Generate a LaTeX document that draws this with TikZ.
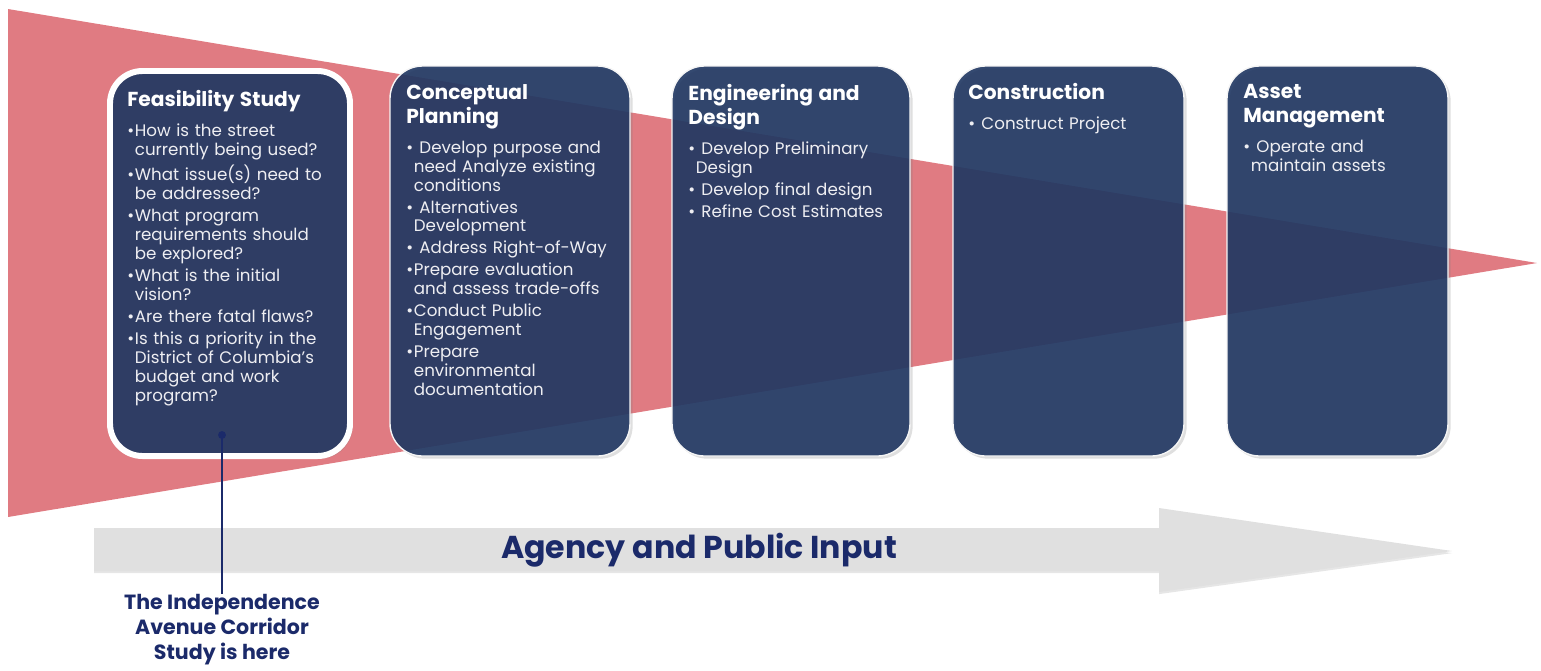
\documentclass[tikz,border=0pt]{standalone}
\usepackage{fontspec}
\setmainfont{Poppins}
\usetikzlibrary{positioning,shadows}

\definecolor{funnelred}{RGB}{224,123,130}
\definecolor{phaseblue}{RGB}{32,55,98}
\definecolor{inputgray}{RGB}{224,224,224}
\definecolor{navy}{RGB}{27,42,106}
\definecolor{bodytext}{RGB}{238,238,242}

% one bullet point, continuation lines hang under the text
\newcommand\itm{\par\vspace{1.7pt}\hangindent=4.3pt\hangafter=1\noindent\makebox[4.3pt][l]{\textbullet}}
\newcommand\phasehead[1]{{\fontsize{11.5}{13.5}\selectfont\bfseries\color{white}#1\par}\vspace{4.6pt}}

\begin{document}
\begin{tikzpicture}[x=0.2mm, y=-0.2mm,
    phase/.style={rectangle, rounded corners=6.5mm, fill=phaseblue, fill opacity=0.91,
      draw=white!92!gray, line width=0.8pt, outer sep=0pt, minimum height=78mm,
      drop shadow={opacity=0.25, shadow xshift=1.5pt, shadow yshift=-1.5pt}},
    phasetext/.style={anchor=north west, inner sep=0pt, text width=46mm, align=left,
      text=bodytext, font=\fontsize{9.5}{10.8}\selectfont},
    funnel/.style={fill=funnelred},
    inputarrow/.style={fill=inputgray,
      drop shadow={opacity=0.2, shadow xshift=0pt, shadow yshift=-1.2pt}},
    callout/.style={draw=navy, line width=1.7pt}]
  \useasboundingbox (0,0) rectangle (1541,670);

  % funnel behind the phases
  \fill[funnel] (8,9) -- (1537,263) -- (8,517) -- cycle;

  % Agency and public input arrow
  \fill[inputarrow] (94,528) -- (1159,528) -- (1159,508) -- (1452,551)
    -- (1159,592) -- (1159,571) -- (94,571) -- cycle;
  \node[font=\fontsize{18}{20}\selectfont\bfseries, text=navy] (input) at (699,550)
    {Agency and Public Input};

  % phases
  \node[phase, minimum width=48mm, minimum height=77mm, line width=3.4pt, draw=white]
    (feas) at (230,263.5) {};
  \node[phase, minimum width=48mm] (concept) at (510,261) {};
  \node[phase, minimum width=47.6mm] (engdesign) at (791,261) {};
  \node[phase, minimum width=46.2mm] (construct) at (1068.5,261) {};
  \node[phase, minimum width=44.2mm] (asset) at (1337.5,261) {};

  \node[phasetext] (feasText) at ([shift={(17,19)}]feas.north west) {%
    \phasehead{Feasibility Study}%
    \itm How is the street\newline currently being used?
    \itm What issue(s) need to\newline be addressed?
    \itm What program\newline requirements should\newline be explored?
    \itm What is the initial\newline vision?
    \itm Are there fatal flaws?
    \itm Is this a priority in the\newline District of Columbia’s\newline budget and work\newline program?\par};
  \node[phasetext] (conceptText) at ([shift={(16,18)}]concept.north west) {%
    \phasehead{Conceptual\newline Planning}%
    \itm~Develop purpose and\newline need Analyze existing\newline conditions
    \itm~Alternatives\newline Development
    \itm~Address Right-of-Way
    \itm Prepare evaluation\newline and assess trade-offs
    \itm Conduct Public\newline Engagement
    \itm Prepare\newline environmental\newline documentation\par};
  \node[phasetext] (engdesignText) at ([shift={(16,18)}]engdesign.north west) {%
    \phasehead{Engineering and\newline Design}%
    \itm~Develop Preliminary\newline Design
    \itm~Develop final design
    \itm~Refine Cost Estimates\par};
  \node[phasetext] (constructText) at ([shift={(15,17)}]construct.north west) {%
    \phasehead{Construction}%
    \itm~Construct Project\par};
  \node[phasetext] (assetText) at ([shift={(16,18)}]asset.north west) {%
    \phasehead{Asset\newline Management}%
    \itm~Operate and\newline maintain assets\par};

  % where this study sits
  \node[circle, fill=navy, inner sep=0pt, minimum size=4.5pt] (here) at (222,435) {};
  \node[anchor=north, inner sep=0pt, align=center, text=navy,
    font=\fontsize{11.7}{14.2}\selectfont\bfseries] (studyHere) at (222,594)
    {The Independence\\Avenue Corridor\\Study is here};
  \draw[callout] (here.center) -- (studyHere.north);
\end{tikzpicture}
\end{document}
